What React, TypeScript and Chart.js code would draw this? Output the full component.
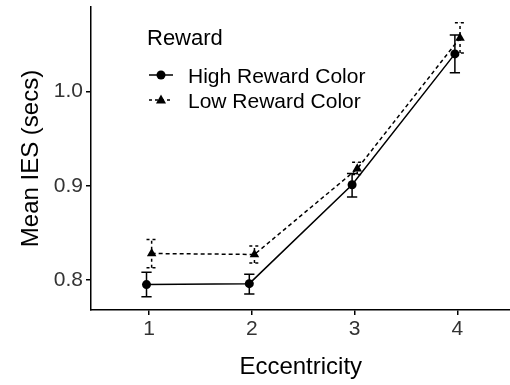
import React, { useEffect, useRef } from "react";
import { Chart, registerables } from "chart.js";

Chart.register(...registerables);

// Eccentricity levels on the x axis
const eccentricity = [1, 2, 3, 4];
const xTicks = [1, 2, 3, 4];
const yTicks = [0.8, 0.9, 1.0];

// High reward colour: mean IES and error-bar limits
const highMean = [0.795, 0.796, 0.901, 1.04];
const highLow = [0.782, 0.785, 0.888, 1.02];
const highHigh = [0.808, 0.806, 0.913, 1.06];

// Low reward colour: mean IES and error-bar limits
const lowMean = [0.828, 0.827, 0.918, 1.057];
const lowLow = [0.813, 0.818, 0.912, 1.041];
const lowHigh = [0.843, 0.836, 0.925, 1.073];

const seriesNames = ["High Reward Color", "Low Reward Color"];
const legendTitle = "Reward";

const FONT = '"Liberation Sans", Arial, Helvetica, sans-serif';
const DODGE = 0.025;
const CAP_HALF = 0.05;

type Bars = { lo: number[]; hi: number[]; dash: number[]; shift: number };
const errorBars: Bars[] = [
  { lo: highLow, hi: highHigh, dash: [], shift: -DODGE },
  { lo: lowLow, hi: lowHigh, dash: [3, 3], shift: DODGE },
];

const errorBarPlugin = {
  id: "errorBars",
  beforeDatasetsDraw(chart: any) {
    const { ctx, scales } = chart;
    const xs = scales.x;
    const ys = scales.y;
    ctx.save();
    ctx.strokeStyle = "#000";
    ctx.lineWidth = 1.5;
    errorBars.forEach((b) => {
      ctx.setLineDash(b.dash);
      eccentricity.forEach((e, i) => {
        const xc = xs.getPixelForValue(e + b.shift);
        const xl = xs.getPixelForValue(e + b.shift - CAP_HALF);
        const xr = xs.getPixelForValue(e + b.shift + CAP_HALF);
        const yl = ys.getPixelForValue(b.lo[i]);
        const yh = ys.getPixelForValue(b.hi[i]);
        ctx.beginPath();
        ctx.moveTo(xc, yl);
        ctx.lineTo(xc, yh);
        ctx.moveTo(xl, yl);
        ctx.lineTo(xr, yl);
        ctx.moveTo(xl, yh);
        ctx.lineTo(xr, yh);
        ctx.stroke();
      });
    });
    ctx.restore();
  },
};

const legendPlugin = {
  id: "rewardLegend",
  afterDraw(chart: any) {
    const { ctx } = chart;
    ctx.save();
    ctx.fillStyle = "#000";
    ctx.textBaseline = "alphabetic";
    ctx.textAlign = "left";
    ctx.font = `22px ${FONT}`;
    ctx.fillText(legendTitle, 147, 45);
    ctx.font = `21px ${FONT}`;
    const rows = [75, 100];
    rows.forEach((cy, i) => {
      ctx.strokeStyle = "#000";
      ctx.lineWidth = 1.5;
      ctx.setLineDash(i === 0 ? [] : [3, 3]);
      ctx.beginPath();
      ctx.moveTo(149, cy);
      ctx.lineTo(173, cy);
      ctx.stroke();
      ctx.setLineDash([]);
      ctx.beginPath();
      if (i === 0) {
        ctx.arc(161, cy, 4.5, 0, Math.PI * 2);
      } else {
        ctx.moveTo(161, cy - 5.5);
        ctx.lineTo(166, cy + 3.5);
        ctx.lineTo(156, cy + 3.5);
        ctx.closePath();
      }
      ctx.fill();
      ctx.fillText(seriesNames[i], 188, cy + 8);
    });
    ctx.restore();
  },
};

export default function App() {
  const canvasRef = useRef<HTMLCanvasElement | null>(null);

  useEffect(() => {
    if (!canvasRef.current) return;
    const toPoints = (vals: number[], shift: number) =>
      eccentricity.map((e, i) => ({ x: e + shift, y: vals[i] }));

    const chart = new Chart(canvasRef.current, {
      type: "line",
      data: {
        datasets: [
          {
            label: seriesNames[0],
            data: toPoints(highMean, -DODGE),
            borderColor: "#000",
            backgroundColor: "#000",
            borderWidth: 1.5,
            pointStyle: "circle",
            pointRadius: 4.5,
            pointBorderWidth: 0,
          },
          {
            label: seriesNames[1],
            data: toPoints(lowMean, DODGE),
            borderColor: "#000",
            backgroundColor: "#000",
            borderWidth: 1.5,
            borderDash: [4, 3],
            pointStyle: "triangle",
            pointRadius: 5.5,
            pointBorderWidth: 0,
          },
        ],
      },
      options: {
        animation: false,
        responsive: false,
        maintainAspectRatio: false,
        layout: { padding: { top: 7, right: 0, left: 0, bottom: 0 } },
        plugins: {
          legend: { display: false },
          tooltip: { enabled: false },
        },
        scales: {
          x: {
            type: "linear",
            min: 0.435,
            max: 4.516,
            afterFit: (s: any) => {
              s.height = 75;
              s.paddingLeft = 0;
              s.paddingRight = 0;
            },
            afterBuildTicks: (s: any) => {
              s.ticks = xTicks.map((v) => ({ value: v }));
            },
            ticks: {
              font: { family: FONT, size: 21 },
              color: "#333",
              padding: 2,
              callback: (v: any) => String(v),
            },
            grid: {
              display: true,
              drawOnChartArea: false,
              drawTicks: true,
              tickLength: 5,
              color: "#000",
              lineWidth: 1.5,
            },
            border: { display: true, color: "#000", width: 1.5 },
            title: {
              display: true,
              text: "Eccentricity",
              font: { family: FONT, size: 24 },
              color: "#000",
              padding: { top: 0, bottom: 3 },
            },
          },
          y: {
            type: "linear",
            min: 0.768,
            max: 1.0898,
            afterFit: (s: any) => {
              s.width = 91;
              s.paddingTop = 0;
              s.paddingBottom = 0;
            },
            afterBuildTicks: (s: any) => {
              s.ticks = yTicks.map((v) => ({ value: v }));
            },
            ticks: {
              font: { family: FONT, size: 21 },
              color: "#333",
              padding: 3,
              callback: (v: any) => Number(v).toFixed(1),
            },
            grid: {
              display: true,
              drawOnChartArea: false,
              drawTicks: true,
              tickLength: 5,
              color: "#000",
              lineWidth: 1.5,
            },
            border: { display: true, color: "#000", width: 1.5 },
            title: {
              display: true,
              text: "Mean IES (secs)",
              font: { family: FONT, size: 24 },
              color: "#000",
              padding: { top: 17, bottom: 0 },
            },
          },
        },
      },
      plugins: [errorBarPlugin, legendPlugin],
    });
    return () => chart.destroy();
  }, []);

  return (
    <div
      style={{
        position: "fixed",
        left: 0,
        top: 0,
        width: 510,
        height: 385,
        background: "#fff",
        overflow: "hidden",
      }}
    >
      <canvas ref={canvasRef} width={516} height={385} />
    </div>
  );
}
